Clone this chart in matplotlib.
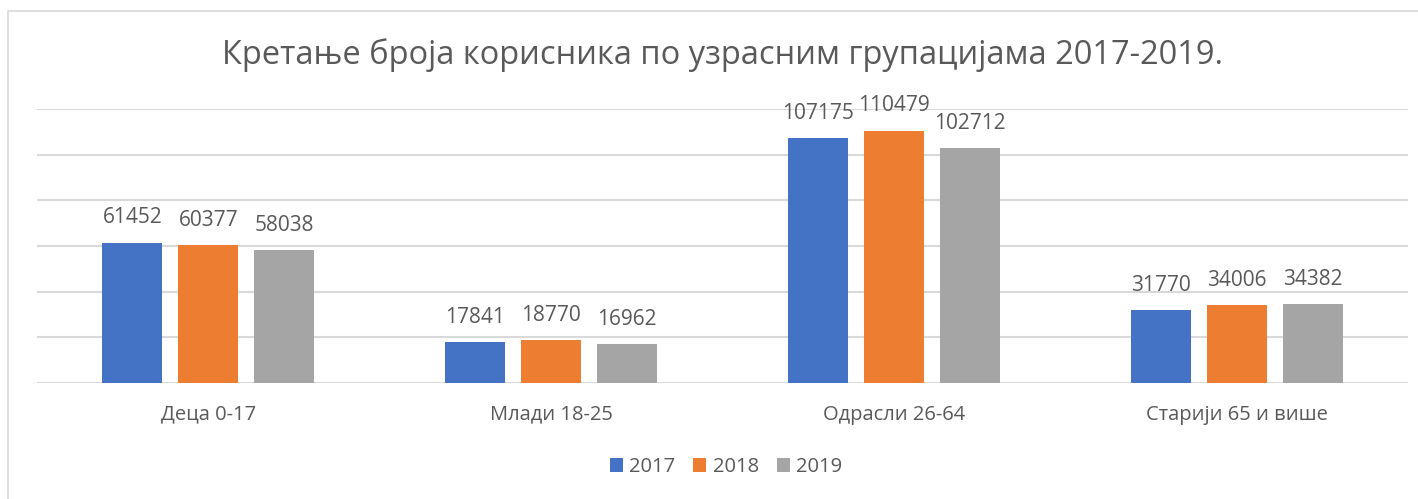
import matplotlib.pyplot as plt
from matplotlib.patches import Rectangle
import numpy as np

categories = ['Деца 0-17', 'Млади 18-25', 'Одрасли 26-64', 'Старији 65 и више']
years = ['2017', '2018', '2019']
v2017 = [61452, 17841, 107175, 31770]
v2018 = [60377, 18770, 110479, 34006]
v2019 = [58038, 16962, 102712, 34382]
colors = ['#4472C4', '#ED7D31', '#A5A5A5']

plt.rcParams['font.family'] = ['Open Sans', 'DejaVu Sans']
txt = '#595959'

fig = plt.figure(figsize=(14.18, 4.99), dpi=100)
ax = fig.add_axes([37/1418, 1 - 383/499, 1371/1418, 274/499])

# chart border (cut at right and bottom like the screenshot)
fig.patches.append(Rectangle((8/1418, -0.1), 1.2, 1.1 - 11/499, transform=fig.transFigure,
                             fill=False, edgecolor='#d9d9d9', linewidth=1.2))

x = np.arange(len(categories))
w = 60/342.75
step = 76/342.75
for i, (vals, yr) in enumerate(zip([v2017, v2018, v2019], years)):
    bars = ax.bar(x + (i - 1) * step, vals, w, color=colors[i], label=yr, zorder=3)
    for b, v in zip(bars, vals):
        ax.annotate(str(v), (b.get_x() + b.get_width()/2, v), xytext=(0, 18),
                    textcoords='offset points', ha='center', va='center',
                    fontsize=15, color=txt)

ax.set_xlim(-0.5, 3.5)
ax.set_ylim(0, 120000)
ax.set_yticks(np.arange(0, 120001, 20000))
ax.yaxis.grid(True, color='#d9d9d9', linewidth=1.5, zorder=0)
ax.tick_params(left=False, labelleft=False, bottom=False)
for s in ax.spines.values():
    s.set_visible(False)
ax.set_xticks(x)
ax.set_xticklabels(categories, fontsize=14.5, color=txt)
ax.tick_params(axis='x', pad=12)

fig.text(723/1418, 1 - 55/499, 'Кретање броја корисника по узрасним групацијама 2017-2019.',
         ha='center', va='center', fontsize=23.5, color=txt)

fig.legend(loc='center', bbox_to_anchor=(726/1418, 1 - 467/499), ncol=3, frameon=False,
           fontsize=14.5, labelcolor=txt, handlelength=0.65, handleheight=0.65,
           handletextpad=0.3, columnspacing=0.9)

fig.savefig('out.png', dpi=100)
